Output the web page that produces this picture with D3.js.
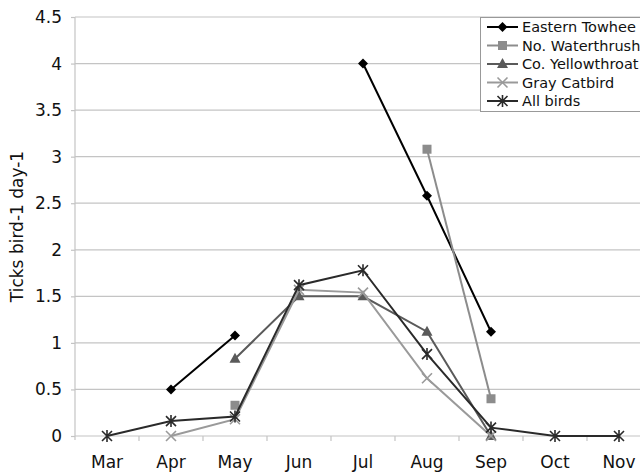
<!DOCTYPE html>
<html><head><meta charset="utf-8">
<script src="https://cdn.jsdelivr.net/npm/d3@7"></script>
<style>body{margin:0;background:#fff}svg{display:block}text{font-family:"DejaVu Sans",Verdana,sans-serif}</style>
</head><body><svg id="c" width="640" height="473"></svg>
<script>
const months = ["Mar","Apr","May","Jun","Jul","Aug","Sep","Oct","Nov"];
const yTicks = [0,0.5,1,1.5,2,2.5,3,3.5,4,4.5];
const seriesNames = ["Eastern Towhee","No. Waterthrush","Co. Yellowthroat","Gray Catbird","All birds"];
const towhee      = [null,0.5,1.08,null,4.0,2.58,1.12,null,null];
const waterthrush = [null,null,0.33,null,null,3.08,0.40,null,null];
const yellowthroat= [null,null,0.83,1.5,1.5,1.12,0.0,null,null];
const catbird     = [null,0.0,0.18,1.57,1.54,0.62,0.0,null,null];
const allBirds    = [0,0.16,0.21,1.62,1.78,0.88,0.09,0,0];
const seriesValues = [towhee,waterthrush,yellowthroat,catbird,allBirds];
const colors = ["#000000","#8c8c8c","#5a5a5a","#9a9a9a","#2a2a2a"];
const markers = ["diamond","square","triangle","x","star"];

const svg = d3.select("#c");
const L=75, R=651, T=17, B=436;
const x = d3.scaleBand().domain(months).range([L,R]);
const y = d3.scaleLinear().domain([0,4.5]).range([B,T]);

// gridlines
svg.append("g").selectAll("line").data(yTicks.filter(d=>d>0)).join("line")
  .attr("x1",L).attr("x2",640).attr("y1",d=>y(d)).attr("y2",d=>y(d))
  .attr("stroke","#c4c4c4").attr("stroke-width",1.2);

// y axis
const ya = svg.append("g").attr("transform",`translate(${L},0)`)
  .call(d3.axisLeft(y).tickValues(yTicks).tickFormat(d=>String(d)).tickSize(4).tickPadding(9));
ya.select(".domain").attr("stroke","#c4c4c4").attr("stroke-width",1.2).attr("d",`M0,${T}V${B+4}`);
ya.selectAll(".tick line").attr("stroke","#c4c4c4").attr("stroke-width",1.2);
ya.selectAll("text").attr("font-size",17).attr("fill","#111").attr("font-family","DejaVu Sans, sans-serif");

// x axis
const xa = svg.append("g").attr("transform",`translate(0,${B})`)
  .call(d3.axisBottom(x).tickSize(0));
xa.select(".domain").attr("stroke","#c4c4c4").attr("stroke-width",1.2).attr("d",`M${L},0H640`);
xa.selectAll("text").attr("dy",null).attr("y",32).attr("font-size",17).attr("fill","#111").attr("font-family","DejaVu Sans, sans-serif");
svg.append("g").selectAll("line").data(months.slice(1)).join("line")
  .attr("x1",d=>x(d)).attr("x2",d=>x(d)).attr("y1",B).attr("y2",B+5)
  .attr("stroke","#c4c4c4").attr("stroke-width",1.2);

// y label
svg.append("text").attr("transform",`translate(23,${(T+B)/2}) rotate(-90)`)
  .attr("text-anchor","middle").attr("font-size",17).attr("fill","#111").text("Ticks bird-1 day-1");

function drawMarker(g,type,cx,cy,color){
  if(type==="diamond"){
    g.append("path").attr("d",`M${cx},${cy-5}L${cx+5},${cy}L${cx},${cy+5}L${cx-5},${cy}Z`).attr("fill",color);
  } else if(type==="square"){
    g.append("rect").attr("x",cx-4.5).attr("y",cy-4.5).attr("width",9).attr("height",9).attr("fill",color);
  } else if(type==="triangle"){
    g.append("path").attr("d",`M${cx},${cy-6}L${cx+5.5},${cy+4}L${cx-5.5},${cy+4}Z`).attr("fill",color);
  } else if(type==="x"){
    g.append("path").attr("d",`M${cx-5},${cy-5}L${cx+5},${cy+5}M${cx-5},${cy+5}L${cx+5},${cy-5}`).attr("stroke",color).attr("stroke-width",1.6);
  } else {
    g.append("path").attr("d",`M${cx-5},${cy-5}L${cx+5},${cy+5}M${cx-5},${cy+5}L${cx+5},${cy-5}M${cx},${cy-6}V${cy+6}`).attr("stroke",color).attr("stroke-width",1.6);
  }
}

const cx = m => x(m)+x.bandwidth()/2;
const line = d3.line().defined(d=>d.v!==null).x(d=>cx(d.m)).y(d=>y(d.v));
seriesValues.forEach((vals,i)=>{
  const data = months.map((m,j)=>({m,v:vals[j]}));
  const g = svg.append("g");
  g.append("path").datum(data).attr("d",line).attr("fill","none")
    .attr("stroke",colors[i]).attr("stroke-width",2);
  data.filter(d=>d.v!==null).forEach(d=>drawMarker(g,markers[i],cx(d.m),y(d.v),colors[i]));
});

// legend
const lg = svg.append("g");
lg.append("rect").attr("x",480.5).attr("y",17.5).attr("width",170).attr("height",94)
  .attr("fill","#fff").attr("stroke","#999").attr("stroke-width",1);
seriesNames.forEach((n,i)=>{
  const yy = 27 + i*18.5;
  lg.append("line").attr("x1",487).attr("x2",518).attr("y1",yy).attr("y2",yy).attr("stroke",colors[i]).attr("stroke-width",2);
  drawMarker(lg,markers[i],502.5,yy,colors[i]);
  lg.append("text").attr("x",522).attr("y",yy).attr("dy","0.36em").attr("font-size",14.5).attr("fill","#111").text(n);
});
</script></body></html>
